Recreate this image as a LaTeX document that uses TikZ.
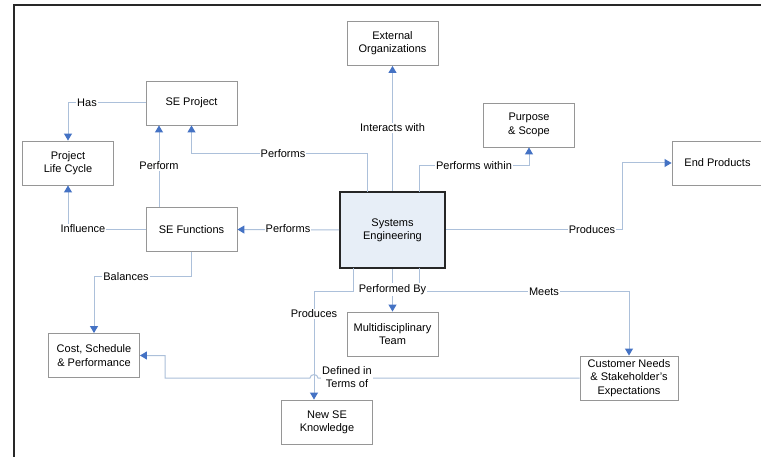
\documentclass[tikz,border=0pt]{standalone}
\usepackage{fontspec}
\setmainfont{Liberation Sans}
\usetikzlibrary{arrows.meta}
\definecolor{linkblue}{RGB}{172,192,218}
\definecolor{tipblue}{RGB}{68,114,196}
\definecolor{boxgray}{RGB}{150,150,150}
\definecolor{corefill}{RGB}{231,238,247}
\definecolor{framegray}{RGB}{40,40,40}

\begin{document}
\begin{tikzpicture}[x=1pt,y=-1pt,
  txt/.style={font=\fontsize{11}{13.3}\selectfont},
  box/.style={txt,draw=boxgray,line width=0.9pt,fill=white,minimum width=91pt,
    minimum height=44pt,inner sep=1pt,align=center},
  core/.style={box,draw=black!85,line width=2pt,fill=corefill,
    minimum width=105pt,minimum height=76pt},
  link/.style={draw=linkblue,line width=1pt,
    -{Triangle[color=tipblue,width=8pt,length=7pt]}},
  lbl/.style={txt,fill=white,inner sep=1pt,align=center}]

\useasboundingbox (0,0) rectangle (761,457);
\fill[white] (0,0) rectangle (761,457);

% outer frame (left and top edges)
\draw[framegray,line width=2pt] (14,457) -- (14,5) -- (761,5);

% concept boxes
\node[core] (se)  at (392.5,230)   {Systems\\Engineering};
\node[box]  (ext) at (392.5,43.5)  {External\\Organizations};
\node[box]  (sep) at (191.5,103)   {SE Project};
\node[box]  (plc) at (68,163)      {Project\\Life Cycle};
\node[box]  (sef) at (191.5,229.5) {SE Functions};
\node[box]  (ps)  at (529,125)     {Purpose\\\& Scope};
\node[box]  (ep)  at (717.5,163)   {End Products};
\node[box]  (csp) at (94,355.5)    {Cost, Schedule\\\& Performance};
\node[box]  (nsk) at (327,422)     {New SE\\Knowledge};
\node[box]  (mt)  at (392.5,334)   {Multidisciplinary\\Team};
\node[box,minimum width=98pt] (cn) at (629,378) {Customer Needs\\\& Stakeholder’s\\Expectations};

% attachment points and bend levels
\coordinate (seA)   at (367,192);
\coordinate (seC)   at (419,192);
\coordinate (seD)   at (353,268);
\coordinate (seE)   at (419,268);
\coordinate (sefT)  at (159,207);
\coordinate (bendA) at (191.5,154);
\coordinate (yBal)  at (0,276.5);
\coordinate (yPW)   at (0,166);
\coordinate (xProd) at (622,0);
\coordinate (yLow)  at (0,291.5);
\coordinate (xNK)   at (314,0);
\coordinate (xDef)  at (165,0);
\coordinate (hopR)  at (318,378);
\coordinate (hopL)  at (310,378);

% connectors
\draw[link] (sep.west) -| (plc.north);
\draw[link] (sefT) -- (sefT |- sep.south);
\draw[link] (seA) |- (bendA) -- (sep.south);
\draw[link] (se.west) -- (sef.east);
\draw[link] (sef.west) -| (plc.south);
\draw[link] (sef.south) |- (csp.north |- yBal) -- (csp.north);
\draw[link] (se.north) -- (ext.south);
\draw[link] (seC) |- (ps.south |- yPW) -- (ps.south);
\draw[link] (se.east) -| (xProd |- ep.west) -- (ep.west);
\draw[link] (se.south) -- (mt.north);
\draw[link] (seD) |- (xNK |- yLow) -- (xNK |- nsk.north);
\draw[link] (seE) |- (cn.north |- yLow) -- (cn.north);
\draw[link] (cn.west) -- (hopR) .. controls (318,373.5) and (310,373.5) .. (hopL)
  -- (xDef |- cn.west) |- (csp.east);

% connector labels
\node[lbl] (lHas)  at (87,103)    {Has};
\node[lbl] (lPf)   at (159,166)   {Perform};
\node[lbl] (lPfs1) at (283,154)   {Performs};
\node[lbl] (lPfs2) at (288,229)   {Performs};
\node[lbl] (lInf)  at (83,229)    {Influence};
\node[lbl] (lBal)  at (126,276.5) {Balances};
\node[lbl] (lInt)  at (392.5,128) {Interacts with};
\node[lbl] (lPW)   at (474,166)   {Performs within};
\node[lbl] (lPr1)  at (592,229.5) {Produces};
\node[lbl] (lPB)   at (392.5,289.5) {Performed By};
\node[lbl] (lPr2)  at (314,314)   {Produces};
\node[lbl] (lMeet) at (544,292)   {Meets};
\node[lbl,font=\fontsize{11}{13}\selectfont] (lDef) at (347,377) {Defined in\\Terms of};
\end{tikzpicture}
\end{document}
